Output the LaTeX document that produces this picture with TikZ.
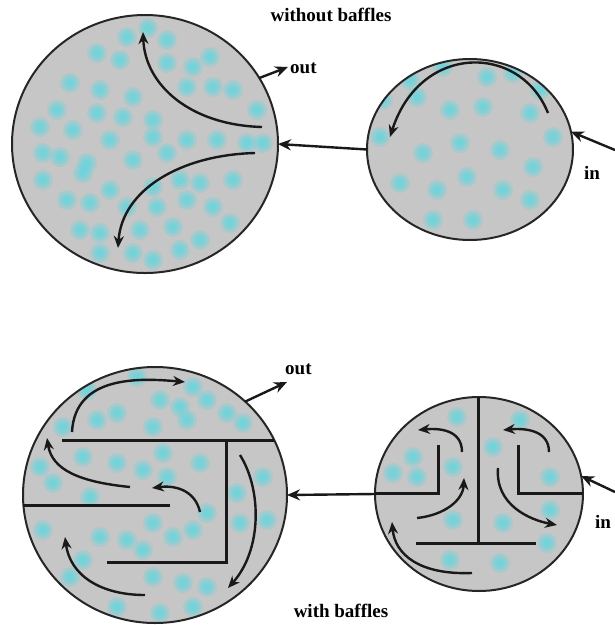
\documentclass[tikz,border=0pt]{standalone}
\usepackage{fontspec}
\setmainfont{Liberation Serif}
\usetikzlibrary{shapes.geometric,arrows.meta}
\definecolor{sludge}{RGB}{198,198,198}
\definecolor{floc}{RGB}{100,214,222}
% soft cyan particles scattered in a tank
\newcommand\flocs[1]{%
  \foreach \fx/\fy in {#1}{%
    \fill[floc,opacity=0.30] (\fx,\fy) circle[radius=10];
    \fill[floc,opacity=0.45] (\fx,\fy) circle[radius=7];
    \fill[floc,opacity=0.55] (\fx,\fy) circle[radius=4];
  }}
\begin{document}
\begin{tikzpicture}[x=1pt,y=-1pt,
  vessel/.style={ellipse, draw=black!85, line width=2pt, inner sep=0pt, outer sep=0pt},
  flow/.style={line width=2.4pt, draw=black!90, -{Stealth[length=12pt,width=10pt]}},
  pipe/.style={line width=2.4pt, draw=black!90, -{Stealth[length=13pt,width=11pt]}},
  baffle/.style={line width=3pt, draw=black!90},
  lbl/.style={font=\fontsize{19}{22}\selectfont\bfseries, inner sep=0pt},
]
\useasboundingbox (0,0) rectangle (615,625);

% ---------- tank fills with particles ----------
\begin{scope}
  \clip (145,144) ellipse [x radius=133, y radius=129];
  \fill[sludge] (145,144) ellipse [x radius=133, y radius=129];
  \flocs{148/28,127/37,167/40,97/53,120/60,167/63,193/67,210/57,187/87,213/87,233/90,
         70/83,100/90,133/97,57/110,97/113,123/117,153/120,257/110,40/127,73/130,110/140,
         153/137,187/140,217/140,247/143,263/143,43/153,60/157,87/163,133/160,167/153,
         43/180,83/173,110/190,153/187,180/180,200/183,233/180,67/200,90/203,127/207,
         157/207,187/200,213/207,230/223,80/230,100/233,140/230,173/227,200/240,100/253,
         133/253,153/260,180/250}
\end{scope}
\begin{scope}
  \clip (470,149.5) ellipse [x radius=103, y radius=90.5];
  \fill[sludge] (470,149.5) ellipse [x radius=103, y radius=90.5];
  \flocs{410/80,443/67,487/77,513/73,540/90,383/100,417/97,450/110,483/107,530/113,
         553/137,380/137,423/153,460/143,500/150,533/167,400/183,437/190,467/177,
         503/190,530/200,433/220,473/220}
\end{scope}
\begin{scope}
  \clip (155,495) ellipse [x radius=132, y radius=128];
  \fill[sludge] (155,495) ellipse [x radius=132, y radius=128];
  \flocs{137/377,87/390,193/387,160/400,180/407,117/413,97/420,207/400,187/420,227/413,
         153/427,243/423,63/427,83/457,117/463,40/467,163/453,200/463,143/470,167/477,
         53/483,90/497,263/477,237/493,267/520,207/513,240/523,153/523,193/530,43/530,
         100/537,127/540,173/537,143/550,83/560,153/577,183/583,207/587,70/577,117/607,
         160/613,193/607}
\end{scope}
\begin{scope}
  \clip (479,494) ellipse [x radius=104, y radius=97];
  \fill[sludge] (479,494) ellipse [x radius=104, y radius=97];
  \flocs{457/417,520/420,413/457,393/473,417/477,453/467,493/447,550/477,550/510,
         503/523,453/520,547/543,450/560,500/563}
\end{scope}

% ---------- tank outlines ----------
\node[vessel, minimum width=266pt, minimum height=258pt] (lt) at (145,144) {};
\node[vessel, minimum width=206pt, minimum height=181pt] (rt) at (470,149.5) {};
\node[vessel, minimum width=264pt, minimum height=256pt] (lb) at (155,495) {};
\node[vessel, minimum width=208pt, minimum height=194pt] (rb) at (479,494) {};

% ---------- baffles ----------
\draw[baffle] (62,440) -- (274,440);
\draw[baffle] (226,440) -- (226,562) -- (107,562);
\draw[baffle] (23,505) -- (170,505);
\draw[baffle] (478,397) -- (478,543);
\draw[baffle] (416,543) -- (536,543);
\draw[baffle] (375,493) -- (438,493) -- (438,445);
\draw[baffle] (518,445) -- (518,493) -- (583,493);

% ---------- flow paths inside the tanks ----------
\draw[flow] (262,127) .. controls (190,125) and (145,85) .. (143,32);
\draw[flow] (255,153) .. controls (180,155) and (122,190) .. (118,248);
\draw[flow] (548,113) .. controls (520,43) and (420,43) .. (390,137);

\draw[flow] (72,432) .. controls (75,375) and (140,378) .. (185,382);
\draw[flow] (130,487) .. controls (80,482) and (52,470) .. (47,438);
\draw[flow] (200,512) .. controls (195,490) and (175,485) .. (152,488);
\draw[flow] (240,455) .. controls (262,490) and (262,550) .. (228,588);
\draw[flow] (145,595) .. controls (100,595) and (70,575) .. (65,537);

\draw[flow] (462,452) .. controls (462,430) and (440,428) .. (418,430);
\draw[flow] (417,518) .. controls (445,515) and (463,500) .. (464,478);
\draw[flow] (472,573) .. controls (420,575) and (395,555) .. (392,522);
\draw[flow] (549,452) .. controls (549,430) and (525,428) .. (503,430);
\draw[flow] (498,468) .. controls (495,505) and (530,520) .. (557,525);

% ---------- piping between tanks ----------
\coordinate (inA) at (615,150);
\coordinate (inB) at (615,492);
\coordinate (outA) at (288,67);
\coordinate (outB) at (287,382);
\draw[pipe] (inA) -- (rt.10);
\draw[pipe] (rt.west) -- (lt.east);
\draw[pipe] (lt.30) -- (outA);
\draw[pipe] (inB) -- (rb.10);
\draw[pipe] (rb.west) -- (lb.east);
\draw[pipe] (lb.46) -- (outB);

% ---------- labels ----------
\node[lbl] (t1) at (331,15) {without baffles};
\node[lbl] (t2) at (341,611) {with baffles};
\node[lbl, anchor=west] (o1) at (290,68) {out};
\node[lbl, anchor=west] (o2) at (285,369) {out};
\node[lbl] (i1) at (592,173) {in};
\node[lbl] (i2) at (603,522) {in};
\end{tikzpicture}
\end{document}
